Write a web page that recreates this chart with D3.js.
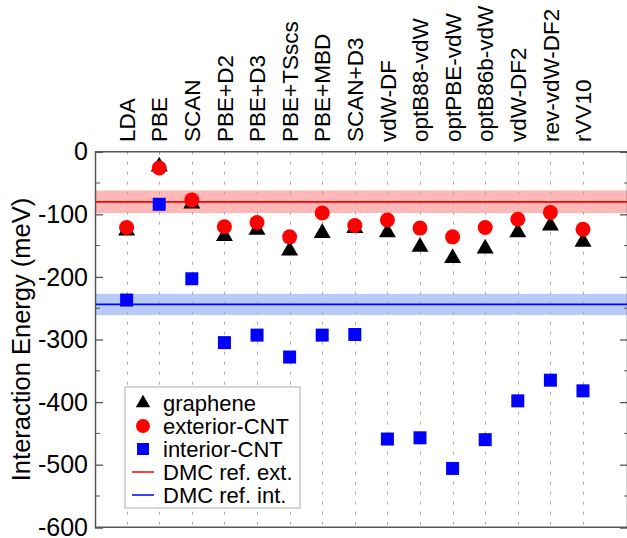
<!DOCTYPE html>
<html lang="en">
<head>
	<meta charset="utf-8">
	<title>Interaction energy</title>
	<script src="https://cdn.jsdelivr.net/npm/d3@7"></script>
	<style>
		body { margin: 0; background: #fff; }
		text { font-family: "Liberation Sans", Arial, sans-serif; fill: #000; }
	</style>
</head>
<body>
	<div id="chart"></div>
	<script>
		// methods along the x axis
		const categories = ["LDA", "PBE", "SCAN", "PBE+D2", "PBE+D3", "PBE+TSscs", "PBE+MBD", "SCAN+D3",
			"vdW-DF", "optB88-vdW", "optPBE-vdW", "optB86b-vdW", "vdW-DF2", "rev-vdW-DF2", "rVV10"];

		// interaction energies (meV)
		const graphene = [-122, -20, -79, -131, -121, -154, -126, -118, -125, -148, -166, -151, -125, -114, -140];
		const exterior = [-121, -26, -77, -120, -113, -136, -98, -118, -109, -122, -136, -121, -108, -97, -124];
		const interior = [-237, -84, -203, -305, -293, -328, -293, -292, -459, -457, -506, -460, -398, -365, -382];

		// DMC reference values and their error bands
		const dmcExt = -80, dmcExtBand = [-62, -98];
		const dmcInt = -244, dmcIntBand = [-227, -261];

		const yTicks = [0, -100, -200, -300, -400, -500, -600];

		const W = 627, H = 538;
		const mLeft = 95, mRight = 627, mTop = 151.7, mBottom = 527.3;

		const svg = d3.select("#chart").append("svg")
			.attr("width", W)
			.attr("height", H);

		const x = d3.scaleLinear().domain([-0.97, 15.35]).range([mLeft, mRight]);
		const y = d3.scaleLinear().domain([-600, 0]).range([mBottom, mTop]);

		// error bands
		svg.append("rect")
			.attr("x", mLeft).attr("width", mRight - mLeft)
			.attr("y", y(dmcExtBand[0])).attr("height", y(dmcExtBand[1]) - y(dmcExtBand[0]))
			.attr("fill", "#ffb8b8");
		svg.append("rect")
			.attr("x", mLeft).attr("width", mRight - mLeft)
			.attr("y", y(dmcIntBand[0])).attr("height", y(dmcIntBand[1]) - y(dmcIntBand[0]))
			.attr("fill", "#b8cbf8");

		// dotted vertical gridlines
		svg.append("g").selectAll("line")
			.data(categories)
			.join("line")
			.attr("x1", (d, i) => Math.round(x(i)) + 0.5)
			.attr("x2", (d, i) => Math.round(x(i)) + 0.5)
			.attr("y1", mTop)
			.attr("y2", mBottom)
			.attr("stroke", "#aaa")
			.attr("stroke-width", 1)
			.attr("stroke-dasharray", "3,7");

		// reference lines
		svg.append("line")
			.attr("x1", mLeft).attr("x2", mRight)
			.attr("y1", y(dmcExt)).attr("y2", y(dmcExt))
			.attr("stroke", "#ff0000").attr("stroke-width", 1.8);
		svg.append("line")
			.attr("x1", mLeft).attr("x2", mRight)
			.attr("y1", y(dmcInt)).attr("y2", y(dmcInt))
			.attr("stroke", "#0000ff").attr("stroke-width", 1.8);

		// axes: left with labels, right ticks only, inward ticks
		const minor = d3.range(-550, 0, 100);
		const yAxisL = svg.append("g")
			.attr("transform", "translate(" + mLeft + ",0)")
			.call(d3.axisRight(y).tickValues(yTicks).tickSize(8).tickFormat(""));
		yAxisL.append("g").selectAll("line").data(minor).join("line")
			.attr("x2", 5).attr("y1", d => y(d)).attr("y2", d => y(d)).attr("stroke", "#555");
		const yAxisR = svg.append("g")
			.attr("transform", "translate(" + mRight + ",0)")
			.call(d3.axisLeft(y).tickValues(yTicks).tickSize(7).tickFormat(""));
		yAxisR.append("g").selectAll("line").data(minor).join("line")
			.attr("x2", -3).attr("y1", d => y(d)).attr("y2", d => y(d)).attr("stroke", "#555");
		svg.selectAll(".domain").attr("stroke", "#555").attr("stroke-width", 1.5);
		svg.selectAll(".tick line").attr("stroke", "#555").attr("stroke-width", 1.3);

		// top and bottom borders
		svg.append("line").attr("x1", mLeft).attr("x2", mRight).attr("y1", mTop).attr("y2", mTop)
			.attr("stroke", "#555").attr("stroke-width", 1.5);
		svg.append("line").attr("x1", mLeft).attr("x2", mRight).attr("y1", mBottom).attr("y2", mBottom)
			.attr("stroke", "#555").attr("stroke-width", 1.5);

		// y tick labels
		svg.append("g").selectAll("text")
			.data(yTicks)
			.join("text")
			.attr("x", mLeft - 7)
			.attr("y", d => y(d))
			.attr("dy", "0.35em")
			.attr("text-anchor", "end")
			.style("font-size", "25px")
			.text(d => d);

		// y axis title
		svg.append("text")
			.attr("transform", "translate(21," + ((mTop + mBottom) / 2) + ") rotate(-90)")
			.attr("dy", "0.35em")
			.attr("text-anchor", "middle")
			.style("font-size", "25.5px")
			.text("Interaction Energy (meV)");

		// category labels, rotated
		svg.append("g").selectAll("text")
			.data(categories)
			.join("text")
			.attr("transform", (d, i) => "translate(" + x(i) + ",142) rotate(-90)")
			.attr("dy", "0.36em")
			.style("font-size", "22.5px")
			.text(d => d);

		// markers (triangle shifted so its box, not centroid, sits on the value)
		const triSize = 125;
		const triH = Math.sqrt(triSize * Math.sqrt(3));
		const tri = d3.symbol().type(d3.symbolTriangle).size(triSize);
		svg.append("g").selectAll("path")
			.data(graphene)
			.join("path")
			.attr("transform", (d, i) => "translate(" + x(i) + "," + (y(d) + triH / 6) + ")")
			.attr("d", tri)
			.attr("fill", "#000");

		svg.append("g").selectAll("circle")
			.data(exterior)
			.join("circle")
			.attr("cx", (d, i) => x(i))
			.attr("cy", d => y(d))
			.attr("r", 7.5)
			.attr("fill", "#ff0000");

		svg.append("g").selectAll("rect")
			.data(interior)
			.join("rect")
			.attr("x", (d, i) => x(i) - 6.5)
			.attr("y", d => y(d) - 6.5)
			.attr("width", 13)
			.attr("height", 13)
			.attr("fill", "#0000ff");

		// legend
		const legend = svg.append("g").attr("transform", "translate(125,387)");
		legend.append("rect")
			.attr("width", 175).attr("height", 121)
			.attr("fill", "#fff").attr("stroke", "#c8c8c8").attr("stroke-width", 1.5);
		const items = ["graphene", "exterior-CNT", "interior-CNT", "DMC ref. ext.", "DMC ref. int."];
		const rowY = d3.scaleLinear().domain([0, 4]).range([16, 108]);
		items.forEach((label, i) => {
			const g = legend.append("g").attr("transform", "translate(18," + rowY(i) + ")");
			if (i === 0) g.append("path").attr("d", d3.symbol().type(d3.symbolTriangle).size(90)).attr("fill", "#000");
			if (i === 1) g.append("circle").attr("r", 7).attr("fill", "#ff0000");
			if (i === 2) g.append("rect").attr("x", -6).attr("y", -6).attr("width", 12).attr("height", 12).attr("fill", "#0000ff");
			if (i === 3) g.append("line").attr("x1", -11).attr("x2", 11).attr("stroke", "#ff0000").attr("stroke-width", 1.5);
			if (i === 4) g.append("line").attr("x1", -11).attr("x2", 11).attr("stroke", "#0000ff").attr("stroke-width", 1.5);
			g.append("text")
				.attr("x", 20)
				.attr("dy", "0.35em")
				.style("font-size", "22px")
				.text(label);
		});
	</script>
</body>
</html>
